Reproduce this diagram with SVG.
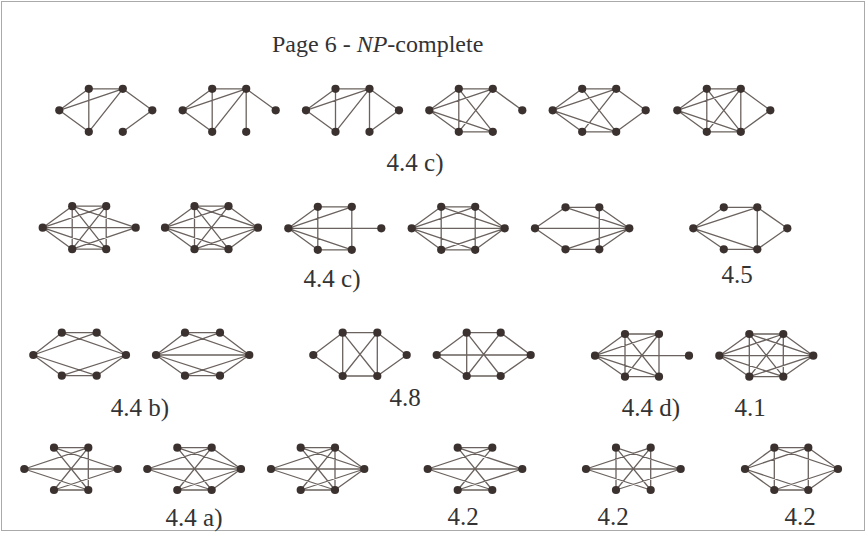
<svg xmlns="http://www.w3.org/2000/svg" width="867" height="533" viewBox="0 0 867 533">
<style>
.e{fill:none;stroke:#6a625e;stroke-width:1.3;stroke-linecap:round}
.v{fill:#3b3230}
.t{font-family:"Liberation Serif",serif;font-size:25px;fill:#333}
</style>
<defs><circle id="v" r="4.1" class="v"/></defs>
<rect x="1.5" y="1.5" width="863" height="529" fill="#fff" stroke="#aaa" stroke-width="1"/>
<text class="t" x="272" y="52" style="font-size:24px">Page 6 - <tspan font-style="italic">NP</tspan>-complete</text>
<g id="labels">
<text class="t" x="415" y="171" text-anchor="middle">4.4 c)</text>
<text class="t" x="332" y="287" text-anchor="middle">4.4 c)</text>
<text class="t" x="737" y="283" text-anchor="middle">4.5</text>
<text class="t" x="140" y="416" text-anchor="middle">4.4 b)</text>
<text class="t" x="405" y="406" text-anchor="middle">4.8</text>
<text class="t" x="651" y="416" text-anchor="middle">4.4 d)</text>
<text class="t" x="750" y="416" text-anchor="middle">4.1</text>
<text class="t" x="194" y="526" text-anchor="middle">4.4 a)</text>
<text class="t" x="463" y="525" text-anchor="middle">4.2</text>
<text class="t" x="613" y="525" text-anchor="middle">4.2</text>
<text class="t" x="800" y="525" text-anchor="middle">4.2</text>
</g>
<g id="connectors">
<path class="e" transform="translate(59.3,110.3)" d="M0 0L29.5-21.5M29.5-21.5H63.5M0 0L63.5-21.5M29.5-21.5V21.5M0 0L29.5 21.5M63.5-21.5L29.5 21.5M63.5-21.5L93 0M63.5 21.5L93 0"/>
<path class="e" transform="translate(182.7,110.3)" d="M0 0L29.5-21.5M29.5-21.5H63.5M0 0L63.5-21.5M29.5-21.5V21.5M0 0L29.5 21.5M63.5-21.5L29.5 21.5M63.5-21.5V21.5M63.5-21.5L93 0"/>
<path class="e" transform="translate(306,110.3)" d="M0 0L29.5-21.5M29.5-21.5H63.5M0 0L63.5-21.5M29.5-21.5V21.5M0 0L29.5 21.5M63.5-21.5L29.5 21.5M63.5-21.5V21.5M63.5-21.5L93 0M63.5 21.5L93 0"/>
<path class="e" transform="translate(429.3,110.3)" d="M0 0L29.5-21.5M0 0L63.5-21.5M0 0L29.5 21.5M0 0L63.5 21.5M29.5-21.5H63.5M29.5-21.5V21.5M29.5-21.5L63.5 21.5M63.5-21.5L29.5 21.5M29.5 21.5H63.5M63.5-21.5L93 0"/>
<path class="e" transform="translate(552.7,110.3)" d="M0 0L29.5-21.5M0 0L63.5-21.5M0 0L29.5 21.5M0 0L63.5 21.5M29.5-21.5H63.5M29.5-21.5L63.5 21.5M63.5-21.5L29.5 21.5M29.5 21.5H63.5M63.5-21.5L93 0M63.5 21.5L93 0"/>
<path class="e" transform="translate(677.3,110.3)" d="M0 0L29.5-21.5M0 0L63.5-21.5M0 0L29.5 21.5M0 0L63.5 21.5M29.5-21.5H63.5M29.5-21.5V21.5M29.5-21.5L63.5 21.5M63.5-21.5L29.5 21.5M63.5-21.5V21.5M29.5 21.5H63.5M63.5-21.5L93 0M63.5 21.5L93 0"/>
<path class="e" transform="translate(42.7,227.7)" d="M0 0L29.5-21.5M0 0L63.5-21.5M0 0L29.5 21.5M0 0L63.5 21.5M0 0H93M29.5-21.5H63.5M29.5-21.5V21.5M29.5-21.5L63.5 21.5M63.5-21.5L29.5 21.5M63.5-21.5V21.5M29.5 21.5H63.5M29.5-21.5L93 0M29.5 21.5L93 0"/>
<path class="e" transform="translate(165,227.7)" d="M0 0L29.5-21.5M0 0L63.5-21.5M0 0L29.5 21.5M0 0L63.5 21.5M0 0H93M29.5-21.5H63.5M29.5-21.5V21.5M29.5-21.5L63.5 21.5M63.5-21.5L29.5 21.5M29.5 21.5H63.5M63.5-21.5L93 0M63.5 21.5L93 0M29.5-21.5L93 0M29.5 21.5L93 0"/>
<path class="e" transform="translate(288.3,228.3)" d="M0 0L29.5-21.5M0 0L63.5-21.5M0 0L29.5 21.5M0 0L63.5 21.5M0 0H93M29.5-21.5H63.5M29.5-21.5V21.5M63.5-21.5V21.5M29.5 21.5H63.5"/>
<path class="e" transform="translate(411.7,228.3)" d="M0 0L29.5-21.5M0 0L63.5-21.5M0 0L29.5 21.5M0 0L63.5 21.5M0 0H93M29.5-21.5H63.5M29.5-21.5V21.5M63.5-21.5V21.5M29.5 21.5H63.5M29.5-21.5L93 0M29.5 21.5L93 0M63.5-21.5L93 0M63.5 21.5L93 0"/>
<path class="e" transform="translate(535,228.3)" d="M0 0L30.5-21M0 0L30.5 21M0 0H94.3M30.5-21H64.3M30.5-21L94.3 0M64.3-21L94.3 0M64.3-21V21M30.5 21H64.3M30.5 21L94.3 0M64.3 21L94.3 0"/>
<path class="e" transform="translate(693.3,228.3)" d="M0 0L30.5-21M0 0L64-21M0 0L30.5 21M0 0L64 21M30.5-21H64M64-21V21M64-21L94 0M64 21L94 0M30.5 21H64"/>
<path class="e" transform="translate(33.3,355)" d="M0 0L28.5-22.3M0 0L63.4-22.3M0 0L28.5 20.7M0 0L63.4 20.7M28.5-22.3H63.4M28.5-22.3L92.7 0M63.4-22.3L92.7 0M28.5 20.7H63.4M28.5 20.7L92.7 0M63.4 20.7L92.7 0"/>
<path class="e" transform="translate(156,355)" d="M0 0L29-22.3M0 0L64-22.3M0 0L29 20.7M0 0L64 20.7M0 0H93.3M29-22.3H64M29-22.3L93.3 0M64-22.3L93.3 0M29 20.7H64M29 20.7L93.3 0M64 20.7L93.3 0"/>
<path class="e" transform="translate(313.3,355)" d="M0 0L29.4-22.3M0 0L29.4 21M29.4-22.3H64M29.4-22.3V21M29.4-22.3L64 21M64-22.3L29.4 21M64-22.3V21M29.4 21H64M64-22.3L93.4 0M64 21L93.4 0"/>
<path class="e" transform="translate(436.7,355)" d="M0 0L30-22.3M0 0L30 21M0 0H94M30-22.3H64M30-22.3V21M30-22.3L64 21M64-22.3L30 21M30 21H64M64-22.3L94 0M64 21L94 0"/>
<path class="e" transform="translate(595,355.7)" d="M0 0L30-21.7M0 0L64-21.7M0 0L30 21M0 0L64 21M0 0H94M30-21.7H64M30-21.7V21M30-21.7L64 21M64-21.7L30 21M64-21.7V21M30 21H64"/>
<path class="e" transform="translate(719.3,355.7)" d="M0 0L30-21.7M0 0L64-21.7M0 0L30 21M0 0L64 21M0 0H94M30-21.7H64M30-21.7V21M30-21.7L64 21M64-21.7L30 21M64-21.7V21M30 21H64M30-21.7L94 0M64-21.7L94 0M30 21L94 0M64 21L94 0"/>
<path class="e" transform="translate(24.3,469)" d="M0 0L64-21.3M0 0L64 21M0 0H93.4M29.7-21.3H64M29.7-21.3L64 21M29.7-21.3L93.4 0M64-21.3L29.7 21M64-21.3V21M29.7 21H64M29.7 21L93.4 0"/>
<path class="e" transform="translate(147.3,469)" d="M0 0L64.4-21.3M0 0L64.4 21M0 0H93.7M30-21.3H64.4M30-21.3L64.4 21M30-21.3L93.7 0M64.4-21.3L30 21M64.4-21.3L93.7 0M30 21H64.4M30 21L93.7 0M64.4 21L93.7 0"/>
<path class="e" transform="translate(271,469)" d="M0 0L64-21.3M0 0L64 21M0 0H93.3M29.7-21.3H64M29.7-21.3L64 21M29.7-21.3L93.3 0M64-21.3L29.7 21M64-21.3V21M64-21.3L93.3 0M64 21L93.3 0M29.7 21H64M29.7 21L93.3 0"/>
<path class="e" transform="translate(427.7,469)" d="M0 0L64.6-21.3M0 0L64.6 21M0 0H94.6M30-21.3H64.6M30-21.3L64.6 21M30-21.3L94.6 0M64.6-21.3L30 21M30 21H64.6M30 21L94.6 0"/>
<path class="e" transform="translate(586,469)" d="M0 0L64.7-21.3M0 0L64.7 21M0 0H94.7M30-21.3V21M30-21.3L64.7 21M30-21.3L94.7 0M64.7-21.3L30 21M64.7-21.3V21M30 21L94.7 0"/>
<path class="e" transform="translate(745,469)" d="M0 0L29.3-21.3M0 0L63.3-21.3M0 0L29.3 21M0 0L63.3 21M29.3-21.3H63.3M29.3-21.3V21M63.3-21.3V21M29.3 21H63.3M63.3-21.3L93 0M63.3 21L93 0M29.3-21.3L93 0M29.3 21L93 0"/>
</g>
<g id="nodes">
<g id="n1" transform="translate(59.3,110.3)"><use href="#v"/><use href="#v" x="29.5" y="-21.5"/><use href="#v" x="63.5" y="-21.5"/><use href="#v" x="93"/><use href="#v" x="29.5" y="21.5"/><use href="#v" x="63.5" y="21.5"/></g>
<g id="n2" transform="translate(182.7,110.3)"><use href="#v"/><use href="#v" x="29.5" y="-21.5"/><use href="#v" x="63.5" y="-21.5"/><use href="#v" x="93"/><use href="#v" x="29.5" y="21.5"/><use href="#v" x="63.5" y="21.5"/></g>
<g id="n3" transform="translate(306,110.3)"><use href="#v"/><use href="#v" x="29.5" y="-21.5"/><use href="#v" x="63.5" y="-21.5"/><use href="#v" x="93"/><use href="#v" x="29.5" y="21.5"/><use href="#v" x="63.5" y="21.5"/></g>
<g id="n4" transform="translate(429.3,110.3)"><use href="#v"/><use href="#v" x="29.5" y="-21.5"/><use href="#v" x="63.5" y="-21.5"/><use href="#v" x="93"/><use href="#v" x="29.5" y="21.5"/><use href="#v" x="63.5" y="21.5"/></g>
<g id="n5" transform="translate(552.7,110.3)"><use href="#v"/><use href="#v" x="29.5" y="-21.5"/><use href="#v" x="63.5" y="-21.5"/><use href="#v" x="93"/><use href="#v" x="29.5" y="21.5"/><use href="#v" x="63.5" y="21.5"/></g>
<g id="n6" transform="translate(677.3,110.3)"><use href="#v"/><use href="#v" x="29.5" y="-21.5"/><use href="#v" x="63.5" y="-21.5"/><use href="#v" x="93"/><use href="#v" x="29.5" y="21.5"/><use href="#v" x="63.5" y="21.5"/></g>
<g id="n7" transform="translate(42.7,227.7)"><use href="#v"/><use href="#v" x="29.5" y="-21.5"/><use href="#v" x="63.5" y="-21.5"/><use href="#v" x="93"/><use href="#v" x="29.5" y="21.5"/><use href="#v" x="63.5" y="21.5"/></g>
<g id="n8" transform="translate(165,227.7)"><use href="#v"/><use href="#v" x="29.5" y="-21.5"/><use href="#v" x="63.5" y="-21.5"/><use href="#v" x="93"/><use href="#v" x="29.5" y="21.5"/><use href="#v" x="63.5" y="21.5"/></g>
<g id="n9" transform="translate(288.3,228.3)"><use href="#v"/><use href="#v" x="29.5" y="-21.5"/><use href="#v" x="63.5" y="-21.5"/><use href="#v" x="93"/><use href="#v" x="29.5" y="21.5"/><use href="#v" x="63.5" y="21.5"/></g>
<g id="n10" transform="translate(411.7,228.3)"><use href="#v"/><use href="#v" x="29.5" y="-21.5"/><use href="#v" x="63.5" y="-21.5"/><use href="#v" x="93"/><use href="#v" x="29.5" y="21.5"/><use href="#v" x="63.5" y="21.5"/></g>
<g id="n11" transform="translate(535,228.3)"><use href="#v"/><use href="#v" x="30.5" y="-21"/><use href="#v" x="64.3" y="-21"/><use href="#v" x="94.3"/><use href="#v" x="30.5" y="21"/><use href="#v" x="64.3" y="21"/></g>
<g id="n12" transform="translate(693.3,228.3)"><use href="#v"/><use href="#v" x="30.5" y="-21"/><use href="#v" x="64" y="-21"/><use href="#v" x="94"/><use href="#v" x="30.5" y="21"/><use href="#v" x="64" y="21"/></g>
<g id="n13" transform="translate(33.3,355)"><use href="#v"/><use href="#v" x="28.5" y="-22.3"/><use href="#v" x="63.4" y="-22.3"/><use href="#v" x="92.7"/><use href="#v" x="28.5" y="20.7"/><use href="#v" x="63.4" y="20.7"/></g>
<g id="n14" transform="translate(156,355)"><use href="#v"/><use href="#v" x="29" y="-22.3"/><use href="#v" x="64" y="-22.3"/><use href="#v" x="93.3"/><use href="#v" x="29" y="20.7"/><use href="#v" x="64" y="20.7"/></g>
<g id="n15" transform="translate(313.3,355)"><use href="#v"/><use href="#v" x="29.4" y="-22.3"/><use href="#v" x="64" y="-22.3"/><use href="#v" x="93.4"/><use href="#v" x="29.4" y="21"/><use href="#v" x="64" y="21"/></g>
<g id="n16" transform="translate(436.7,355)"><use href="#v"/><use href="#v" x="30" y="-22.3"/><use href="#v" x="64" y="-22.3"/><use href="#v" x="94"/><use href="#v" x="30" y="21"/><use href="#v" x="64" y="21"/></g>
<g id="n17" transform="translate(595,355.7)"><use href="#v"/><use href="#v" x="30" y="-21.7"/><use href="#v" x="64" y="-21.7"/><use href="#v" x="94"/><use href="#v" x="30" y="21"/><use href="#v" x="64" y="21"/></g>
<g id="n18" transform="translate(719.3,355.7)"><use href="#v"/><use href="#v" x="30" y="-21.7"/><use href="#v" x="64" y="-21.7"/><use href="#v" x="94"/><use href="#v" x="30" y="21"/><use href="#v" x="64" y="21"/></g>
<g id="n19" transform="translate(24.3,469)"><use href="#v"/><use href="#v" x="29.7" y="-21.3"/><use href="#v" x="64" y="-21.3"/><use href="#v" x="93.4"/><use href="#v" x="29.7" y="21"/><use href="#v" x="64" y="21"/></g>
<g id="n20" transform="translate(147.3,469)"><use href="#v"/><use href="#v" x="30" y="-21.3"/><use href="#v" x="64.4" y="-21.3"/><use href="#v" x="93.7"/><use href="#v" x="30" y="21"/><use href="#v" x="64.4" y="21"/></g>
<g id="n21" transform="translate(271,469)"><use href="#v"/><use href="#v" x="29.7" y="-21.3"/><use href="#v" x="64" y="-21.3"/><use href="#v" x="93.3"/><use href="#v" x="29.7" y="21"/><use href="#v" x="64" y="21"/></g>
<g id="n22" transform="translate(427.7,469)"><use href="#v"/><use href="#v" x="30" y="-21.3"/><use href="#v" x="64.6" y="-21.3"/><use href="#v" x="94.6"/><use href="#v" x="30" y="21"/><use href="#v" x="64.6" y="21"/></g>
<g id="n23" transform="translate(586,469)"><use href="#v"/><use href="#v" x="30" y="-21.3"/><use href="#v" x="64.7" y="-21.3"/><use href="#v" x="94.7"/><use href="#v" x="30" y="21"/><use href="#v" x="64.7" y="21"/></g>
<g id="n24" transform="translate(745,469)"><use href="#v"/><use href="#v" x="29.3" y="-21.3"/><use href="#v" x="63.3" y="-21.3"/><use href="#v" x="93"/><use href="#v" x="29.3" y="21"/><use href="#v" x="63.3" y="21"/></g>
</g>
</svg>
